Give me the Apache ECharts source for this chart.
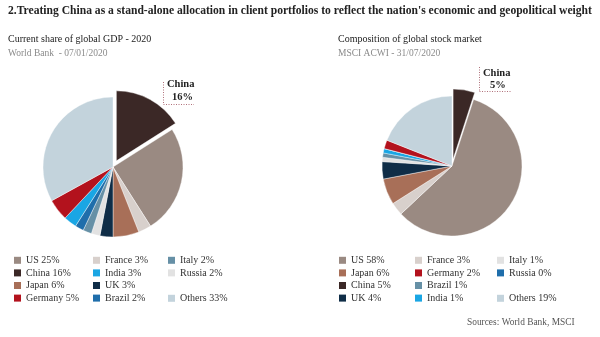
<!DOCTYPE html>
<html><head><meta charset="utf-8">
<script src="https://cdn.jsdelivr.net/npm/echarts@6/dist/echarts.min.js"></script>
<style>html,body{margin:0;padding:0;background:#fff}#c{width:600px;height:337px}</style>
</head><body><div id="c"></div>
<script>
// Data
const gdpNames  = ['China','US','France','Japan','UK','Russia','Italy','Brazil','India','Germany','Others'];
const gdpValues = [16, 25, 3, 6, 3, 2, 2, 2, 3, 5, 33];
const mktNames  = ['China','US','France','Japan','UK','Italy','Brazil','India','Russia','Germany','Others'];
const mktValues = [5, 58, 3, 6, 4, 1, 1, 1, 0, 2, 19];
const gdpLegendCols = [['US','China','Japan','Germany'],['France','India','UK','Brazil'],['Italy','Russia'],['Others']];
const mktLegendCols = [['US','Japan','China','UK'],['France','Germany','Brazil','India'],['Italy','Russia'],['Others']];

const gdpColors = {China:'#3b2826',US:'#9a8a82',France:'#d8d0cc',Japan:'#a86f58',UK:'#0f2d47',Russia:'#e2e2e2',Italy:'#6690a6',Brazil:'#1f6eab',India:'#1aa6e4',Germany:'#b3121d',Others:'#c3d3dc'};
const mktColors = {China:'#3b2826',US:'#9a8a82',France:'#d8d0cc',Japan:'#a86f58',UK:'#0f2d47',Russia:'#1f6eab',Italy:'#e2e2e2',Brazil:'#6690a6',India:'#1aa6e4',Germany:'#b3121d',Others:'#c3d3dc'};

const FONT = 'Liberation Serif';
const chart = echarts.init(document.getElementById('c'));

function pieData(names, values, colors){
  return names.map((n,i)=>({name:n, value:values[i], selected: n==='China', itemStyle:{color:colors[n]}}));
}
function legends(cols, names, values, colors, xs){
  const map = {}; names.forEach((n,i)=>map[n]=values[i]);
  const tops = [254, 254, 254, 292];
  return cols.map((col,ci)=>({
    orient:'vertical', left: xs[ci], top: tops[ci], padding:0,
    itemWidth:7, itemHeight:7, itemGap:0, icon:'rect', selectedMode:false,
    textStyle:{fontFamily:FONT, fontSize:10, color:'#333', lineHeight:12.6},
    itemStyle:{borderWidth:0},
    formatter: n => n + ' ' + map[n] + '%',
    data: col.map(n=>({name:n, itemStyle:{color:colors[n], borderWidth:0}}))
  }));
}

const dotted = {stroke:'#b0707a', lineWidth:1, lineDash:[1,1.5]};
const option = {
  animation:false,
  title:[
    {text:"2.Treating China as a stand-alone allocation in client portfolios to reflect the nation's economic and geopolitical weight", left:8, top:5, padding:0,
     textStyle:{fontFamily:FONT, fontWeight:'bold', fontSize:11.6, color:'#222'}},
    {text:'Current share of global GDP - 2020', left:8, top:34, padding:0, textStyle:{fontFamily:FONT, fontWeight:'normal', fontSize:10, color:'#222'}},
    {text:'World Bank  - 07/01/2020', left:8, top:48, padding:0, textStyle:{fontFamily:FONT, fontWeight:'normal', fontSize:9.5, color:'#8a8a8a'}},
    {text:'Composition of global stock market', left:338, top:34, padding:0, textStyle:{fontFamily:FONT, fontWeight:'normal', fontSize:10, color:'#222'}},
    {text:'MSCI ACWI - 31/07/2020', left:338, top:48, padding:0, textStyle:{fontFamily:FONT, fontWeight:'normal', fontSize:9.5, color:'#8a8a8a'}},
    {text:'Sources: World Bank, MSCI', left:467, top:318, padding:0, textStyle:{fontFamily:FONT, fontWeight:'normal', fontSize:9.4, color:'#555'}}
  ],
  legend: legends(gdpLegendCols, gdpNames, gdpValues, gdpColors, [14,93,168,168])
    .concat(legends(mktLegendCols, mktNames, mktValues, mktColors, [339,415,497,497])),
  series:[
    {type:'pie', center:[113,167], radius:70, startAngle:90, clockwise:true,
     selectedMode:'single', selectedOffset:7, avoidLabelOverlap:false,
     label:{show:false}, labelLine:{show:false}, emphasis:{disabled:true},
     itemStyle:{borderColor:'#fff', borderWidth:0.4},
     data: pieData(gdpNames, gdpValues, gdpColors)},
    {type:'pie', center:[452,166], radius:70, startAngle:90, clockwise:true,
     selectedMode:'single', selectedOffset:7, avoidLabelOverlap:false, stillShowZeroSum:false,
     label:{show:false}, labelLine:{show:false}, emphasis:{disabled:true},
     itemStyle:{borderColor:'#fff', borderWidth:0.4},
     data: pieData(mktNames, mktValues, mktColors)}
  ],
  graphic:[
    {type:'line', shape:{x1:163.5,y1:82,x2:163.5,y2:104}, style:dotted},
    {type:'line', shape:{x1:163.5,y1:104.5,x2:194,y2:104.5}, style:dotted},
    {type:'text', left:167, top:79, style:{text:'China', font:'bold 10.5px "Liberation Serif"', fill:'#222'}},
    {type:'text', left:172, top:92, style:{text:gdpValues[0]+'%', font:'bold 10.5px "Liberation Serif"', fill:'#222'}},
    {type:'line', shape:{x1:479.5,y1:67,x2:479.5,y2:91}, style:dotted},
    {type:'line', shape:{x1:479.5,y1:91.5,x2:512,y2:91.5}, style:dotted},
    {type:'text', left:483, top:68, style:{text:'China', font:'bold 10.5px "Liberation Serif"', fill:'#222'}},
    {type:'text', left:490, top:80, style:{text:mktValues[0]+'%', font:'bold 10.5px "Liberation Serif"', fill:'#222'}}
  ]
};
chart.setOption(option);
</script></body></html>
